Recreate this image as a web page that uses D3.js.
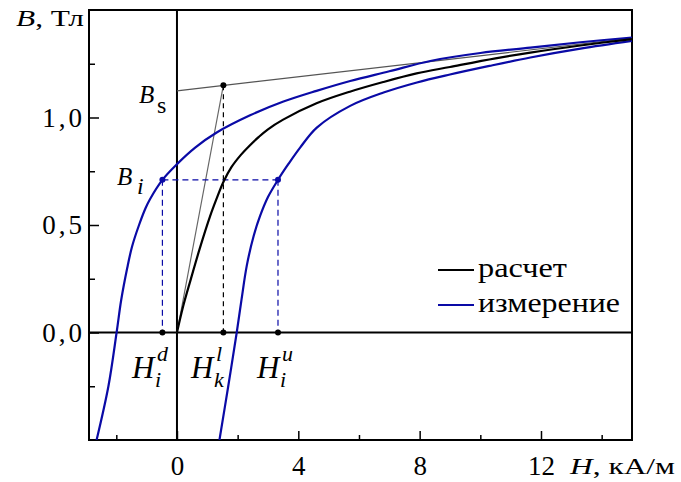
<!DOCTYPE html>
<html>
<head>
<meta charset="utf-8">
<script src="https://cdn.jsdelivr.net/npm/d3@7"></script>
<style>
  body { margin: 0; background: #fff; }
  text, tspan { font-family: "Liberation Serif", "Times New Roman", serif !important; }
</style>
</head>
<body>
<svg id="chart" width="681" height="482" font-family="Liberation Serif, serif"></svg>
<script>
// расчет (calculated curve)
const calcH = [0, 0.2, 0.45, 0.75, 1.09, 1.3, 1.53, 1.8, 2.1, 2.4, 2.7, 3.0, 3.5, 4.6, 5.7, 6.8, 7.9, 9.0, 10.5, 11.65, 13.3, 15];
const calcB = [0, 0.12, 0.245, 0.39, 0.54, 0.62, 0.7, 0.77, 0.825, 0.87, 0.91, 0.945, 0.99, 1.066, 1.12, 1.165, 1.205, 1.235, 1.275, 1.302, 1.335, 1.365];

// измерение, descending branch
const downH = [-2.65, -2.26, -1.99, -1.84, -1.64, -1.48, -1.25, -1.03, -0.89, -0.48, 0, 0.6, 1.31, 2.41, 3.51, 4.6, 5.71, 7.0, 8.35, 10.0, 11.65, 13.3, 15];
const downB = [-0.5, -0.25, 0, 0.15, 0.3, 0.4, 0.5, 0.58, 0.62, 0.71, 0.783, 0.86, 0.93, 1.01, 1.074, 1.124, 1.17, 1.215, 1.263, 1.3, 1.325, 1.35, 1.372];

// измерение, ascending branch
const upH = [1.4, 1.69, 1.97, 2.13, 2.3, 2.53, 2.74, 3.0, 3.33, 3.68, 4.06, 4.61, 5.71, 6.81, 7.91, 9.0, 10.3, 11.65, 13.3, 15];
const upB = [-0.5, -0.25, 0, 0.155, 0.31, 0.45, 0.542, 0.63, 0.71, 0.785, 0.86, 0.953, 1.054, 1.116, 1.163, 1.2, 1.24, 1.279, 1.32, 1.356];

// saturation tangent and initial slope line
const satH = [0, 15];
const satB = [1.124, 1.369];
const kneeH = 1.53, kneeB = 1.15;

// B_i level and its H values
const Bi = 0.71, Hid = -0.48, Hiu = 3.33;

const xMajor = [0, 4, 8, 12];
const xMinor = [-2, 2, 6, 10, 14];
const yMajor = [0, 0.5, 1.0];
const yMinor = [-0.25, 0.25, 0.75, 1.25];

const blue = "#0a0aa6";
const serif = "Liberation Serif, serif";

const svg = d3.select("#chart");
const m = { left: 89, right: 632, top: 10, bottom: 440 };

const x = d3.scaleLinear().domain([-2.9, 15]).range([m.left, m.right]);
const y = d3.scaleLinear().domain([-0.5, 1.5]).range([m.bottom, m.top]);

const comma = d => d3.format(".1f")(d).replace(".", ",");

svg.append("clipPath").attr("id", "plot-clip")
  .append("rect").attr("x", m.left).attr("y", m.top)
  .attr("width", m.right - m.left).attr("height", m.bottom - m.top);

// axes (ticks point inwards)
svg.append("g").attr("transform", "translate(0," + m.bottom + ")")
  .call(d3.axisBottom(x).tickValues(xMinor).tickSize(-5).tickFormat(""))
  .call(g => g.select(".domain").remove());
svg.append("g").attr("transform", "translate(0," + m.bottom + ")")
  .call(d3.axisBottom(x).tickValues(xMajor).tickSize(-9).tickPadding(16).tickFormat(d3.format("d")))
  .call(g => g.select(".domain").remove())
  .attr("font-family", serif).attr("font-size", 27);

svg.append("g").attr("transform", "translate(" + m.left + ",0)")
  .call(d3.axisLeft(y).tickValues(yMinor).tickSize(-6).tickFormat(""))
  .call(g => g.select(".domain").remove());
svg.append("g").attr("transform", "translate(" + m.left + ",0)")
  .call(d3.axisLeft(y).tickValues(yMajor).tickSize(-10).tickPadding(4).tickFormat(comma))
  .call(g => g.select(".domain").remove())
  .attr("font-family", serif).attr("font-size", 27)
  .selectAll("text").attr("letter-spacing", 3);

svg.selectAll(".tick line").attr("stroke", "#000").attr("stroke-width", 1.5);

// frame and zero lines
svg.append("rect").attr("x", m.left).attr("y", m.top)
  .attr("width", m.right - m.left).attr("height", m.bottom - m.top)
  .attr("fill", "none").attr("stroke", "#000").attr("stroke-width", 2);
svg.append("line").attr("x1", x(0)).attr("x2", x(0)).attr("y1", m.top).attr("y2", m.bottom)
  .attr("stroke", "#000").attr("stroke-width", 2);
svg.append("line").attr("x1", m.left).attr("x2", m.right).attr("y1", y(0)).attr("y2", y(0))
  .attr("stroke", "#000").attr("stroke-width", 2);

const plot = svg.append("g").attr("clip-path", "url(#plot-clip)");

// construction lines
plot.append("line")
  .attr("x1", x(satH[0])).attr("y1", y(satB[0]))
  .attr("x2", x(satH[1])).attr("y2", y(satB[1]))
  .attr("stroke", "#555").attr("stroke-width", 1.2);
plot.append("line")
  .attr("x1", x(0)).attr("y1", y(0))
  .attr("x2", x(kneeH)).attr("y2", y(kneeB))
  .attr("stroke", "#666").attr("stroke-width", 1.2);
plot.append("line")
  .attr("x1", x(kneeH)).attr("y1", y(kneeB))
  .attr("x2", x(kneeH)).attr("y2", y(0))
  .attr("stroke", "#000").attr("stroke-width", 1.2).attr("stroke-dasharray", "5,4");

const dashBlue = g => g.attr("stroke", blue).attr("stroke-width", 1.2).attr("stroke-dasharray", "6,4");
plot.append("line").attr("x1", x(Hid)).attr("x2", x(Hiu)).attr("y1", y(Bi)).attr("y2", y(Bi)).call(dashBlue);
plot.append("line").attr("x1", x(Hid)).attr("x2", x(Hid)).attr("y1", y(Bi)).attr("y2", y(0)).call(dashBlue);
plot.append("line").attr("x1", x(Hiu)).attr("x2", x(Hiu)).attr("y1", y(Bi)).attr("y2", y(0)).call(dashBlue);

// curves
const line = d3.line().x(d => x(d[0])).y(d => y(d[1])).curve(d3.curveCatmullRom.alpha(0.5));
const zip = (a, b) => a.map((v, i) => [v, b[i]]);

plot.append("path").datum(zip(downH, downB)).attr("d", line)
  .attr("fill", "none").attr("stroke", blue).attr("stroke-width", 2.2);
plot.append("path").datum(zip(upH, upB)).attr("d", line)
  .attr("fill", "none").attr("stroke", blue).attr("stroke-width", 2.2);
plot.append("path").datum(zip(calcH, calcB)).attr("d", line)
  .attr("fill", "none").attr("stroke", "#000").attr("stroke-width", 2.2);

// dots
const dots = [
  [kneeH, kneeB, "#000"], [kneeH, 0, "#000"],
  [Hid, 0, "#000"], [Hiu, 0, "#000"],
  [Hid, Bi, blue], [Hiu, Bi, blue]
];
svg.selectAll("circle.pt").data(dots).enter().append("circle")
  .attr("class", "pt")
  .attr("cx", d => x(d[0])).attr("cy", d => y(d[1])).attr("r", 3)
  .attr("fill", d => d[2]);

// axis titles
const bt = svg.append("text").attr("x", 16).attr("y", 26)
  .attr("textLength", 68).attr("lengthAdjust", "spacingAndGlyphs")
  .attr("font-size", 23);
bt.append("tspan").attr("font-style", "italic").text("B");
bt.append("tspan").text(", Тл");

const ht = svg.append("text").attr("x", 570).attr("y", 474)
  .attr("textLength", 105).attr("lengthAdjust", "spacingAndGlyphs")
  .attr("font-size", 24);
ht.append("tspan").attr("font-style", "italic").text("H");
ht.append("tspan").text(", кА/м");

// annotation labels
function label(px, py, main, sub, sup, opts) {
  const g = svg.append("g");
  g.append("text").attr("x", px).attr("y", py)
    .attr("font-style", "italic").attr("font-size", opts.size).text(main);
  if (sub) g.append("text").attr("x", px + opts.dx).attr("y", py + opts.subDy)
    .attr("font-style", opts.subItalic ? "italic" : "normal")
    .attr("font-size", opts.small).text(sub);
  if (sup) g.append("text").attr("x", px + opts.dx + 2).attr("y", py + opts.supDy)
    .attr("font-style", "italic").attr("font-size", opts.small).text(sup);
}

label(139, 103, "B", "s", null, { size: 25, small: 24, dx: 18, subDy: 10, subItalic: false });
label(117, 185, "B", "i", null, { size: 25, small: 24, dx: 20, subDy: 9, subItalic: true });

const hOpts = { size: 31, small: 22, dx: 23, subDy: 9, supDy: -17, subItalic: true };
label(132, 378, "H", "i", "d", hOpts);
label(191, 378, "H", "k", "l", hOpts);
label(257, 378, "H", "i", "u", hOpts);

// legend
const legendItems = ["расчет", "измерение"];
const legendWidths = [89, 142];
const legendColors = ["#000", blue];
const lg = svg.append("g").attr("transform", "translate(438,270)");
legendItems.forEach((name, i) => {
  lg.append("line").attr("x1", 0).attr("x2", 36).attr("y1", i * 35).attr("y2", i * 35)
    .attr("stroke", legendColors[i]).attr("stroke-width", 2);
  lg.append("text").attr("x", 40).attr("y", i * 35 + 7)
    .attr("textLength", legendWidths[i]).attr("lengthAdjust", "spacingAndGlyphs")
    .attr("font-size", 28).text(name);
});

svg.selectAll("text").attr("font-family", serif).attr("fill", "#000");
</script>
</body>
</html>
